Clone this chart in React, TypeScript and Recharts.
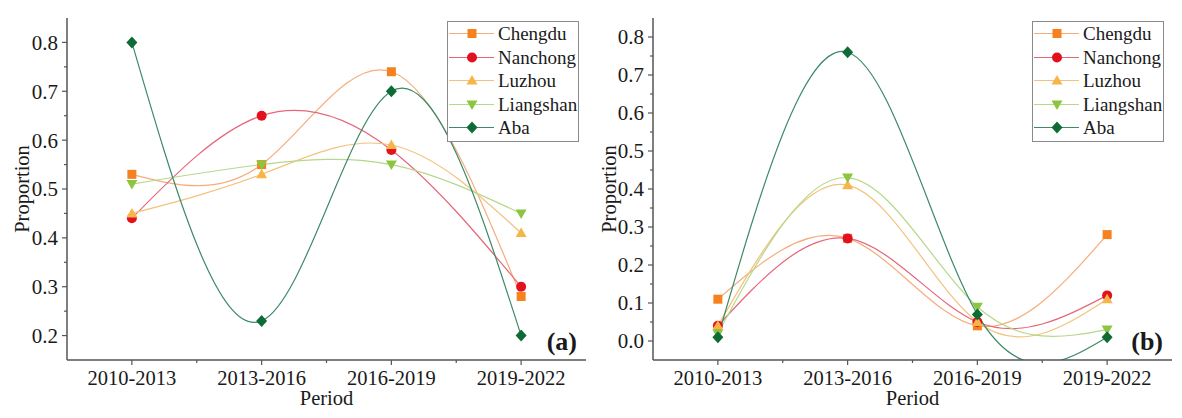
import { Customized, Legend, Line, LineChart, XAxis, YAxis } from 'recharts';

const periods = ['2010-2013', '2013-2016', '2016-2019', '2019-2022'];

// panel (a)
const chengduA = [0.53, 0.55, 0.74, 0.28];
const nanchongA = [0.44, 0.65, 0.58, 0.3];
const luzhouA = [0.45, 0.53, 0.59, 0.41];
const liangshanA = [0.51, 0.55, 0.55, 0.45];
const abaA = [0.8, 0.23, 0.7, 0.2];

// panel (b)
const chengduB = [0.11, 0.27, 0.04, 0.28];
const nanchongB = [0.04, 0.27, 0.05, 0.12];
const luzhouB = [0.04, 0.41, 0.05, 0.11];
const liangshanB = [0.02, 0.43, 0.09, 0.03];
const abaB = [0.01, 0.76, 0.07, 0.01];

const yTicksA = [0.2, 0.25, 0.3, 0.35, 0.4, 0.45, 0.5, 0.55, 0.6, 0.65, 0.7, 0.75, 0.8];
const yTicksB = [0, 0.05, 0.1, 0.15, 0.2, 0.25, 0.3, 0.35, 0.4, 0.45, 0.5, 0.55, 0.6, 0.65, 0.7, 0.75, 0.8];
const xTicks = [0, 0.5, 1, 1.5, 2, 2.5, 3];

const FONT = '"Liberation Serif", "Times New Roman", serif';
const INK = '#1a1a1a';

const series = [
    { key: 'Chengdu', shape: 'square', fill: '#f5821f', stroke: '#f5ad7c' },
    { key: 'Nanchong', shape: 'circle', fill: '#e3101e', stroke: '#e4687a' },
    { key: 'Luzhou', shape: 'triangle', fill: '#f6b548', stroke: '#f3c27c' },
    { key: 'Liangshan', shape: 'triangleDown', fill: '#8cc640', stroke: '#b6d88b' },
    { key: 'Aba', shape: 'diamond', fill: '#0e6b35', stroke: '#3d8a69' },
];

const buildRows = (cols: number[][]) =>
    periods.map((p, i) => ({
        idx: i,
        period: p,
        Chengdu: cols[0][i],
        Nanchong: cols[1][i],
        Luzhou: cols[2][i],
        Liangshan: cols[3][i],
        Aba: cols[4][i],
    }));

const dataA = buildRows([chengduA, nanchongA, luzhouA, liangshanA, abaA]);
const dataB = buildRows([chengduB, nanchongB, luzhouB, liangshanB, abaB]);

function Marker({ cx, cy, shape, fill }: any) {
    if (cx == null || cy == null) return null;
    if (shape === 'square') return <rect x={cx - 4.5} y={cy - 4.5} width={9} height={9} fill={fill} />;
    if (shape === 'circle') return <circle cx={cx} cy={cy} r={5} fill={fill} />;
    if (shape === 'triangle')
        return <polygon points={`${cx},${cy - 5.5} ${cx + 5.5},${cy + 4} ${cx - 5.5},${cy + 4}`} fill={fill} />;
    if (shape === 'triangleDown')
        return <polygon points={`${cx},${cy + 5.5} ${cx + 5.5},${cy - 4} ${cx - 5.5},${cy - 4}`} fill={fill} />;
    return <polygon points={`${cx},${cy - 6} ${cx + 5.5},${cy} ${cx},${cy + 6} ${cx - 5.5},${cy}`} fill={fill} />;
}

function XTick({ x, y, payload }: any) {
    const v = payload.value;
    const axisY = y - 10;
    const major = Number.isInteger(v);
    return (
        <g>
            <line x1={x} x2={x} y1={axisY} y2={axisY + (major ? 5 : 3)} stroke="#555" strokeWidth={1.2} />
            {major && (
                <text x={x} y={y} dy="0.71em" textAnchor="middle" fontSize={20.5} fill={INK} fontFamily={FONT}>
                    {periods[v]}
                </text>
            )}
        </g>
    );
}

function YTick({ x, y, payload }: any) {
    const v = payload.value;
    const axisX = x + 9;
    const major = Math.round(v * 100) % 10 === 0;
    return (
        <g>
            <line x1={axisX} x2={axisX - (major ? 5 : 3)} y1={y} y2={y} stroke="#555" strokeWidth={1.2} />
            {major && (
                <text x={x} y={y} dy="0.355em" textAnchor="end" fontSize={21} fill={INK} fontFamily={FONT}>
                    {v.toFixed(1)}
                </text>
            )}
        </g>
    );
}

function LegendBox() {
    return (
        <div
            style={{
                border: '1px solid #8a8a8a',
                background: '#fff',
                width: 132,
                boxSizing: 'border-box',
                padding: '0 0 1px 0',
                fontFamily: FONT,
            }}
        >
            {series.map((s) => (
                <div key={s.key} style={{ display: 'flex', alignItems: 'center', height: 23.5 }}>
                    <svg width={50} height={23} style={{ flex: 'none' }}>
                        <line x1={1} x2={46} y1={11.5} y2={11.5} stroke={s.stroke} strokeWidth={1.2} />
                        <Marker cx={24} cy={11.5} shape={s.shape} fill={s.fill} />
                    </svg>
                    <span style={{ fontSize: 19, color: INK, lineHeight: '23px', whiteSpace: 'nowrap' }}>{s.key}</span>
                </div>
            ))}
        </div>
    );
}

function Texts({ tag, tagX, yTitleX, xTitleX }: any) {
    return (
        <g fontFamily={FONT} fill={INK}>
            <text x={xTitleX} y={405} textAnchor="middle" fontSize={20.5}>
                Period
            </text>
            <text
                x={yTitleX}
                y={189}
                textAnchor="middle"
                fontSize={20.5}
                transform={`rotate(-90, ${yTitleX}, 189)`}
                dy="0.35em"
            >
                Proportion
            </text>
            <text x={tagX} y={350} textAnchor="end" fontSize={26} fontWeight="bold">
                {tag}
            </text>
        </g>
    );
}

function Panel({ data, yTicks, yDomain, width, left, right, legendLeft, tag, yTitleX }: any) {
    const plotRight = width - right;
    return (
        <LineChart width={width} height={418} data={data} margin={{ top: 18, right, left: 0, bottom: 0 }}>
            <XAxis
                dataKey="idx"
                type="number"
                domain={[-0.5, 3.5]}
                ticks={xTicks}
                interval={0}
                height={58}
                tickSize={5}
                tickMargin={5}
                tickLine={false}
                tick={<XTick />}
                axisLine={{ stroke: '#555', strokeWidth: 1.5 }}
            />
            <XAxis xAxisId="top" orientation="top" height={0} tick={false} tickLine={false} axisLine={{ stroke: '#999', strokeWidth: 1 }} />
            <YAxis
                domain={yDomain}
                allowDataOverflow
                ticks={yTicks}
                interval={0}
                width={left}
                tickSize={5}
                tickMargin={4}
                tickLine={false}
                tick={<YTick />}
                axisLine={{ stroke: '#555', strokeWidth: 1.5 }}
            />
            <YAxis yAxisId="right" orientation="right" width={0} tick={false} tickLine={false} axisLine={{ stroke: '#999', strokeWidth: 1 }} />
            {series.map((s) => (
                <Line
                    key={s.key}
                    type="natural"
                    dataKey={s.key}
                    stroke={s.stroke}
                    strokeWidth={1.2}
                    isAnimationActive={false}
                    dot={(p: any) => <Marker key={`${s.key}-${p.index}`} cx={p.cx} cy={p.cy} shape={s.shape} fill={s.fill} />}
                    activeDot={false}
                />
            ))}
            <Legend
                layout="vertical"
                align="center"
                verticalAlign="middle"
                content={() => <LegendBox />}
                wrapperStyle={{ left: legendLeft, top: 21, width: 132 }}
            />
            <Customized
                component={<Texts tag={tag} tagX={plotRight - 9} yTitleX={yTitleX} xTitleX={(left + plotRight) / 2} />}
            />
        </LineChart>
    );
}

export default function App() {
    return (
        <div style={{ position: 'absolute', left: 0, top: 0, width: 1182, height: 418, background: '#fff', display: 'flex' }}>
            <Panel
                data={dataA}
                yTicks={yTicksA}
                yDomain={[0.15, 0.85]}
                width={590}
                left={67}
                right={4}
                legendLeft={447}
                tag="(a)"
                yTitleX={22}
            />
            <Panel
                data={dataB}
                yTicks={yTicksB}
                yDomain={[-0.05, 0.85]}
                width={592}
                left={63}
                right={10}
                legendLeft={442}
                tag="(b)"
                yTitleX={19}
            />
        </div>
    );
}
